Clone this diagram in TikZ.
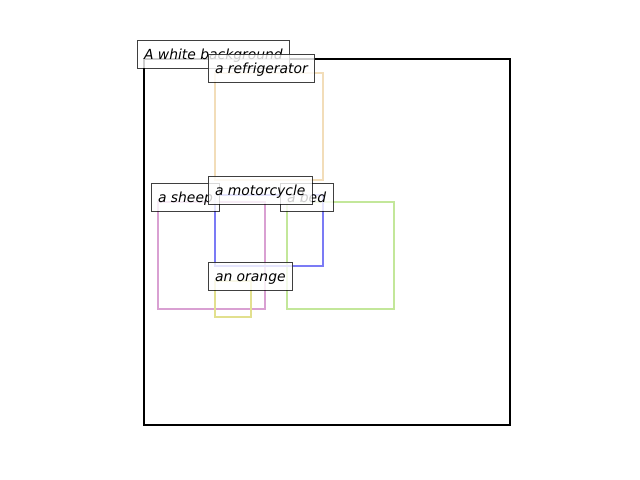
\documentclass[tikz,border=0pt]{standalone}
\usepackage{fontspec}
\setmainfont{DejaVu Sans}
\usepackage{tikz}
\definecolor{fridgecol}{HTML}{F2DDB9}
\definecolor{sheepcol}{HTML}{D9A0D2}
\definecolor{motocol}{HTML}{7B7BF5}
\definecolor{bedcol}{HTML}{C3E79A}
\definecolor{orangecol}{HTML}{E2E08E}
\tikzstyle{frame} = [line width = 1.6pt, draw = black]
\tikzstyle{objbox} = [line width = 1.8pt]
\tikzstyle{caption} = [anchor = base west, xshift = -5pt, font = \itshape, draw = black,
draw opacity = 0.75, fill = white, fill opacity = 0.8, text opacity = 1, inner sep = 5pt,
outer sep = 0pt, text height = 8.6pt, text depth = 1.8pt, line width = 0.72pt]

\begin{document}
\begin{tikzpicture} [x = 0.72pt, y = -0.72pt]
\useasboundingbox (0,0) rectangle (640,480);
% corners of the boxes
\coordinate (back) at (144,59);
\coordinate (fridge) at (215,73);
\coordinate (sheep) at (158,202);
\coordinate (bed) at (287,202);
\coordinate (moto) at (215,195);
\coordinate (orange) at (215,281);

\draw[frame] (back) rectangle +(366,366);
\draw[objbox, fridgecol] (fridge) rectangle +(108,107);
\draw[objbox, sheepcol] (sheep) rectangle +(107,107);
\draw[objbox, bedcol] (bed) rectangle +(107,107);
\draw[objbox, motocol] (moto) rectangle +(108,71);
\draw[objbox, orangecol] (orange) rectangle +(36,36);

\node (backlabel) [caption] at (back) {A white background};
\node (fridgelabel) [caption] at (fridge) {a refrigerator};
\node (sheeplabel) [caption] at (sheep) {a sheep};
\node (bedlabel) [caption] at (bed) {a bed};
\node (motolabel) [caption] at (moto) {a motorcycle};
\node (orangelabel) [caption] at (orange) {an orange};
\end{tikzpicture}
\end{document}
